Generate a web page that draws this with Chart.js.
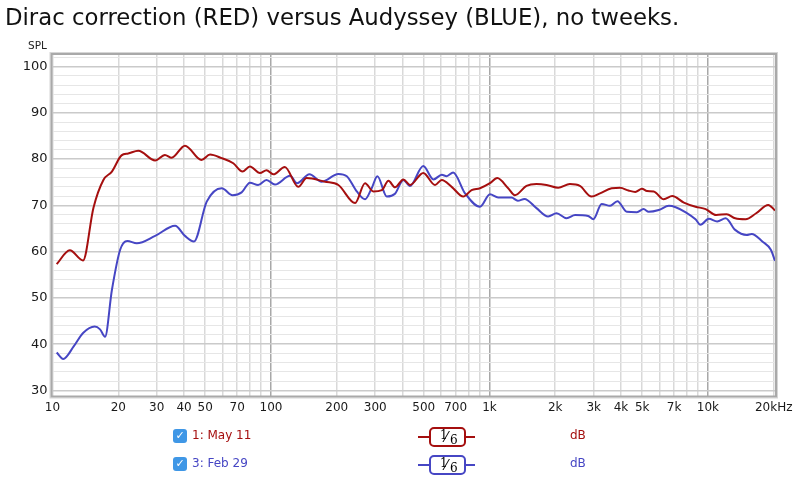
<!DOCTYPE html>
<html>
<head>
<meta charset="utf-8">
<script src="https://cdn.jsdelivr.net/npm/chart.js@4.4.0/dist/chart.umd.min.js"></script>
<style>
    html, body { margin: 0; padding: 0; background: #fff; }
    #wrap { position: relative; width: 800px; height: 482px; overflow: hidden; font-family: "DejaVu Sans", sans-serif; }
    #chart { position: absolute; left: 0; top: 0; }
    #title { position: absolute; left: 5px; top: 4px; font-size: 23px; color: #111; white-space: nowrap; }
    #spl { position: absolute; left: 28px; top: 39px; font-size: 10.5px; color: #222; }
    .row { position: absolute; left: 0; width: 800px; height: 20px; }
    .check { position: absolute; left: 173px; top: 2px; width: 14px; height: 14px; border-radius: 3px; background: #3f97e6; color: #fff; font-size: 11px; line-height: 14px; text-align: center; }
    .name { position: absolute; left: 192px; top: 1px; font-size: 12px; }
    .wire { position: absolute; left: 418px; top: 9px; width: 57px; height: 2px; }
    .box { position: absolute; left: 429px; top: 0px; width: 33px; height: 16px; border: 2px solid; border-radius: 5px; background: #fff; color: #000; font-family: "DejaVu Serif", serif; font-size: 12px; }
    .box span { position: absolute; line-height: 12px; }
    .unit { position: absolute; left: 570px; top: 1px; font-size: 12px; }
</style>
</head>
<body>
<div id="wrap">
    <canvas id="chart" width="800" height="482"></canvas>
    <div id="title">Dirac correction (RED) versus Audyssey (BLUE), no tweeks.</div>
    <div id="spl">SPL</div>
    <div id="legend"></div>
</div>
<script>
// frequencies (Hz) and SPL (dB)
const redFreq = [10.45, 12.0, 13.8, 15.4, 17.1, 18.7, 20.7, 22.2, 24.7, 29.5, 32.7, 35.1, 40.4, 48.1, 52.6, 59.5, 67.2, 74.1, 80.1, 89.0, 95.4, 102.5, 115.7, 133.3, 145.6, 176.8, 203.4, 242.6, 269.4, 294, 321.6, 345, 369.5, 403.5, 432.6, 497.7, 563.5, 605, 671.5, 759, 828, 905, 1005, 1085, 1218, 1306, 1477, 1641, 1824, 2063, 2334, 2593, 2933, 3204, 3625, 3961, 4329, 4647, 4988, 5262, 5646, 6276, 6860, 7758, 8770, 9760, 10900, 12180, 13320, 14870, 16620, 18880, 20270];
const redSpl = [57.3, 60.3, 58.1, 69.5, 75.5, 77.3, 80.8, 81.2, 81.8, 79.7, 80.9, 80.3, 82.9, 79.8, 81.0, 80.2, 79.1, 77.3, 78.4, 77.0, 77.6, 76.7, 78.3, 74.0, 75.9, 75.1, 74.4, 70.5, 74.8, 73.0, 73.3, 75.3, 73.9, 75.6, 74.4, 77.0, 74.4, 75.5, 74.0, 71.9, 73.3, 73.7, 74.8, 75.9, 73.7, 72.2, 74.2, 74.6, 74.4, 73.8, 74.6, 74.2, 71.9, 72.6, 73.7, 73.8, 73.2, 72.9, 73.6, 73.1, 73.0, 71.3, 72.0, 70.6, 69.7, 69.2, 67.9, 68.1, 67.2, 67.0, 68.3, 70.1, 68.9];

const blueFreq = [10.45, 11.2, 12.5, 13.8, 15.6, 16.5, 17.4, 18.7, 20.4, 22.0, 24.3, 29.5, 36.4, 40.4, 44.4, 50.8, 59.5, 66.7, 73.4, 80.1, 87.3, 95.4, 104.3, 122.3, 131.7, 149.9, 170.6, 203.4, 222.3, 247, 269.4, 289, 306.8, 339, 369.5, 403.5, 432.6, 497.7, 554, 605, 637, 682, 773, 905, 1005, 1096, 1261, 1348, 1446, 1641, 1855, 2027, 2255, 2466, 2830, 2987, 3262, 3563, 3850, 4254, 4730, 5075, 5353, 5956, 6625, 7116, 7914, 8770, 9241, 10090, 11020, 12050, 13320, 15050, 15850, 17740, 19400, 20270];
const blueSpl = [38.2, 36.8, 39.5, 42.4, 43.8, 43.2, 41.6, 51.7, 60.4, 62.3, 61.8, 63.4, 65.6, 63.4, 62.2, 70.8, 73.7, 72.2, 72.8, 74.9, 74.4, 75.5, 74.5, 76.4, 74.8, 76.7, 75.1, 76.8, 76.3, 73.0, 71.3, 73.7, 76.3, 71.9, 72.5, 75.5, 74.2, 78.5, 75.6, 76.6, 76.3, 77.1, 72.6, 69.7, 72.4, 71.7, 71.7, 71.0, 71.4, 69.4, 67.6, 68.3, 67.2, 67.9, 67.7, 67.0, 70.3, 69.9, 70.9, 68.6, 68.5, 69.2, 68.6, 69.0, 69.9, 69.6, 68.5, 67.0, 65.8, 67.1, 66.5, 67.2, 64.7, 63.6, 63.8, 62.2, 60.4, 58.0];

// labelled frequency ticks
const xTickLabels = { 10: "10", 20: "20", 30: "30", 40: "40", 50: "50", 70: "70", 100: "100", 200: "200", 300: "300", 500: "500", 700: "700", 1000: "1k", 2000: "2k", 3000: "3k", 4000: "4k", 5000: "5k", 7000: "7k", 10000: "10k", 20000: "20kHz" };

const legendItems = [
    { name: "1: May 11", color: "#a50f0f", top: 427 },
    { name: "3: Feb 29", color: "#4646c4", top: 455 },
];

const RED = "#a50f0f";
const BLUE = "#4646c4";
const X_MAX = 20270;

const toPoints = (xs, ys) => xs.map((x, i) => ({ x: x, y: ys[i] }));

function logTicks() {
    const ticks = [];
    for (let dec = 10; dec <= 10000; dec *= 10) {
        for (let m = 1; m <= 9; m++) {
            if (dec * m <= X_MAX) ticks.push({ value: dec * m });
        }
    }
    return ticks;
}

function splTicks() {
    const ticks = [];
    for (let v = 30; v <= 102; v += 2) {
        ticks.push({ value: v });
    }
    return ticks;
}

const frame = {
    id: "frame",
    afterDraw(chart) {
        const a = chart.chartArea;
        const c = chart.ctx;
        c.save();
        c.strokeStyle = "#d6d6d6";
        c.lineWidth = 1;
        c.strokeRect(a.left - 2.5, a.top - 2.5, a.right - a.left + 5, a.bottom - a.top + 5);
        c.strokeStyle = "#a9a9a9";
        c.lineWidth = 2;
        c.strokeRect(a.left - 1, a.top - 1, a.right - a.left + 2, a.bottom - a.top + 2);
        c.restore();
    }
};

const ctx = document.getElementById("chart").getContext("2d");

new Chart(ctx, {
    type: "line",
    data: {
        datasets: [
            {
                label: "3: Feb 29",
                data: toPoints(blueFreq, blueSpl),
                borderColor: BLUE,
                borderWidth: 2,
                pointRadius: 0,
                cubicInterpolationMode: "monotone",
                order: 2,
            },
            {
                label: "1: May 11",
                data: toPoints(redFreq, redSpl),
                borderColor: RED,
                borderWidth: 2,
                pointRadius: 0,
                cubicInterpolationMode: "monotone",
                order: 1,
            }
        ]
    },
    options: {
        responsive: false,
        animation: false,
        layout: { padding: { left: 0, top: 55, right: 25, bottom: 0 } },
        plugins: {
            legend: { display: false },
            tooltip: { enabled: false },
        },
        scales: {
            x: {
                type: "logarithmic",
                min: 10,
                max: X_MAX,
                afterBuildTicks: (scale) => { scale.ticks = logTicks(); },
                afterFit: (scale) => { scale.height = 86.5; },
                ticks: {
                    autoSkip: false,
                    maxRotation: 0,
                    padding: 5,
                    color: "#1a1a1a",
                    font: { family: "DejaVu Sans", size: 12 },
                    callback: (value) => xTickLabels[value] || "",
                },
                grid: {
                    drawTicks: false,
                    color: (c) => [100, 1000, 10000].includes(c.tick.value) ? "#a8a8a8" : "#d9d9d9",
                    lineWidth: 1.5,
                },
                border: { display: false },
            },
            y: {
                min: 28.9,
                max: 102.5,
                afterBuildTicks: (scale) => { scale.ticks = splTicks(); },
                afterFit: (scale) => { scale.width = 52.5; },
                ticks: {
                    autoSkip: false,
                    padding: 5,
                    color: "#1a1a1a",
                    font: { family: "DejaVu Sans", size: 13 },
                    callback: (value) => value % 10 === 0 ? String(value) : "",
                },
                grid: {
                    drawTicks: false,
                    color: (c) => c.tick.value % 10 === 0 ? "#cacaca" : "#e6e6e6",
                    lineWidth: (c) => c.tick.value % 10 === 0 ? 1.5 : 1,
                },
                border: { display: false },
            }
        }
    },
    plugins: [frame],
});

// legend rows under the plot
const legend = document.getElementById("legend");
legendItems.forEach(item => {
    const row = document.createElement("div");
    row.className = "row";
    row.style.top = item.top + "px";
    row.innerHTML =
        '<div class="check">\u2713</div>' +
        '<div class="name" style="color:' + item.color + '">' + item.name + '</div>' +
        '<div class="wire" style="background:' + item.color + '"></div>' +
        '<div class="box" style="border-color:' + item.color + '">' +
        '<span style="left:9px;top:0px">1</span>' +
        '<span style="left:14px;top:2px;font-size:14px">\u2044</span>' +
        '<span style="left:19px;top:5px">6</span></div>' +
        '<div class="unit" style="color:' + item.color + '">dB</div>';
    legend.appendChild(row);
});

// fit the title to the width it has in the picture
const title = document.getElementById("title");
title.style.fontSize = (23 * 675 / title.offsetWidth) + "px";
</script>
</body>
</html>
